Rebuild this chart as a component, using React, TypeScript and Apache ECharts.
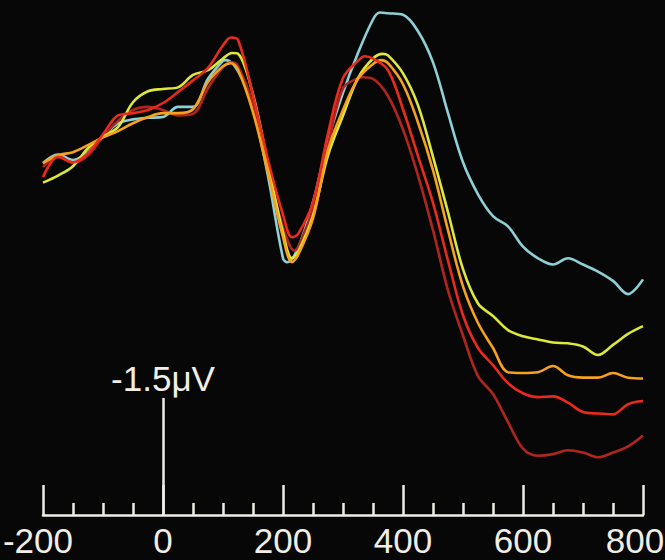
import React, { useEffect, useRef } from "react";
import * as echarts from "echarts";

// time axis (ms) and sample times
const times = [
  -200, -175, -150, -125, -100, -75, -50, -25, 0, 25, 50, 75, 100, 125, 150, 175, 200, 225, 250, 275, 300,
  325, 350, 375, 400, 425, 450, 475, 500, 525, 550, 575, 600, 625, 650, 675, 700, 725, 750, 775, 800,
];
const xTicks = [-200, 0, 200, 400, 600, 800];

// amplitudes in µV (negative plotted upward)
const cyan = [
  -4.54, -4.65, -4.58, -4.68, -4.88, -5.05, -5.1, -5.12, -5.13, -5.26, -5.26, -5.62, -5.85, -5.72, -5.24, -4.37, -3.32,
  -3.45, -4.04, -4.83, -5.44, -5.95, -6.38, -6.46, -6.44, -6.23, -5.83, -5.18, -4.55, -4.14, -3.86, -3.73, -3.47, -3.32,
  -3.24, -3.32, -3.24, -3.15, -3.03, -2.86, -3.05,
];
const cyanPeaks = [[105, -5.86], [207, -3.27], [361, -6.47]];

const yellow = [
  -4.29, -4.38, -4.5, -4.73, -4.88, -5.0, -5.32, -5.46, -5.49, -5.51, -5.67, -5.73, -5.88, -5.94, -5.42, -4.53, -3.65,
  -3.4, -3.87, -4.64, -5.15, -5.63, -5.88, -5.92, -5.69, -5.28, -4.62, -3.91, -3.18, -2.74, -2.58, -2.4, -2.32, -2.28,
  -2.24, -2.23, -2.19, -2.08, -2.21, -2.35, -2.45,
];
const yellowPeaks = [[115, -5.95], [215, -3.32], [366, -5.94]];

const orange = [
  -4.54, -4.64, -4.68, -4.77, -4.87, -4.95, -5.05, -5.13, -5.18, -5.18, -5.23, -5.58, -5.78, -5.74, -5.19, -4.42, -3.59,
  -3.36, -3.83, -4.71, -5.22, -5.62, -5.81, -5.82, -5.55, -5.06, -4.45, -3.68, -2.96, -2.49, -2.17, -1.86, -1.85, -1.86,
  -1.94, -1.82, -1.79, -1.79, -1.85, -1.79, -1.78,
];
const orangePeaks = [[113, -5.82], [215, -3.27], [364, -5.86]];

const red = [
  -4.36, -4.62, -4.55, -4.67, -4.91, -5.15, -5.18, -5.22, -5.31, -5.45, -5.6, -5.76, -6.05, -6.12, -5.41, -4.58, -3.88,
  -3.63, -4.04, -4.92, -5.63, -5.85, -5.88, -5.73, -5.23, -4.63, -4.03, -3.29, -2.59, -2.17, -1.95, -1.72, -1.59, -1.54,
  -1.55, -1.47, -1.35, -1.33, -1.32, -1.45, -1.49,
];
const redPeaks = [[113, -6.15], [215, -3.59], [336, -5.91]];

const darkRed = [
  -4.49, -4.63, -4.54, -4.64, -4.88, -5.08, -5.22, -5.26, -5.22, -5.15, -5.17, -5.5, -5.77, -5.78, -5.29, -4.45, -3.72,
  -3.46, -3.96, -4.77, -5.5, -5.63, -5.62, -5.4, -4.97, -4.38, -3.68, -2.91, -2.33, -1.81, -1.58, -1.22, -0.88, -0.79,
  -0.81, -0.86, -0.83, -0.77, -0.83, -0.91, -1.05,
];
const darkRedPeaks = [[115, -5.83], [219, -3.42], [332, -5.64]];

// visible amplitude range (top, bottom of plot) and the scale bar
const yRange = [-6.63, -0.03];
const scaleBar = 1.5;
const scaleLabel = "-1.5\u03bcV";

const FONT = "'Liberation Sans', Arial, Helvetica, sans-serif";
const INK = "#f1eee6";
const FS = 35;

function build(vals: number[], extra: number[][]) {
  const pts = times.map((t, i) => [t, vals[i]]);
  return pts.concat(extra).sort((a, b) => a[0] - b[0]);
}

export default function App() {
  const ref = useRef<HTMLDivElement>(null);
  useEffect(() => {
    if (!ref.current) return;
    const chart = echarts.init(ref.current, undefined, { renderer: "svg" });
    const line = (name: string, color: string, vals: number[], extra: number[][], z: number) => ({
      name,
      type: "line",
      data: build(vals, extra),
      showSymbol: false,
      smooth: 0.35,
      z,
      lineStyle: { color, width: 2.6 },
    });
    const txt = { color: INK, fontSize: FS, fontFamily: FONT };
    chart.setOption({
      animation: false,
      backgroundColor: "#070707",
      grid: { left: 43, right: 22, top: 0, bottom: 45, containLabel: false, outerBoundsMode: "none" },
      xAxis: {
        type: "value",
        min: xTicks[0],
        max: xTicks[xTicks.length - 1],
        interval: 200,
        axisLine: { onZero: false, lineStyle: { color: INK, width: 2.5 } },
        axisTick: { inside: true, length: 30, lineStyle: { color: INK, width: 2.5 } },
        minorTick: { show: true, splitNumber: 4, length: 12, lineStyle: { color: INK, width: 2.5 } },
        splitLine: { show: false },
        axisLabel: {
          ...txt,
          margin: 8,
          alignMinLabel: "center",
          alignMaxLabel: "center",
          formatter: (v: number) =>
            v === xTicks[xTicks.length - 1] ? `{r|${v}}` : v === xTicks[0] ? `{l|${v}}` : `${v}`,
          rich: {
            r: { ...txt, padding: [0, 16, 0, 0] },
            l: { ...txt, padding: [0, 10, 0, 0] },
          },
        },
      },
      yAxis: { type: "value", inverse: true, min: yRange[0], max: yRange[1], show: false },
      series: [
        {
          ...line("cyan", "#8ed0d6", cyan, cyanPeaks, 2),
          markLine: {
            silent: true,
            symbol: "none",
            animation: false,
            lineStyle: { color: INK, width: 2.5, type: "solid" },
            label: {
              show: true,
              position: "end",
              formatter: scaleLabel,
              ...txt,
              distance: 2,
            },
            data: [[{ coord: [0, yRange[1]] }, { coord: [0, yRange[1] - scaleBar] }]],
          },
        },
        line("darkred", "#b0261f", darkRed, darkRedPeaks, 3),
        line("yellow", "#dde93a", yellow, yellowPeaks, 4),
        line("orange", "#f6a21e", orange, orangePeaks, 5),
        line("red", "#ea2a1c", red, redPeaks, 6),
      ],
    });
    return () => chart.dispose();
  }, []);
  return <div ref={ref} style={{ width: 665, height: 560, position: "fixed", left: 0, top: 0 }} />;
}
